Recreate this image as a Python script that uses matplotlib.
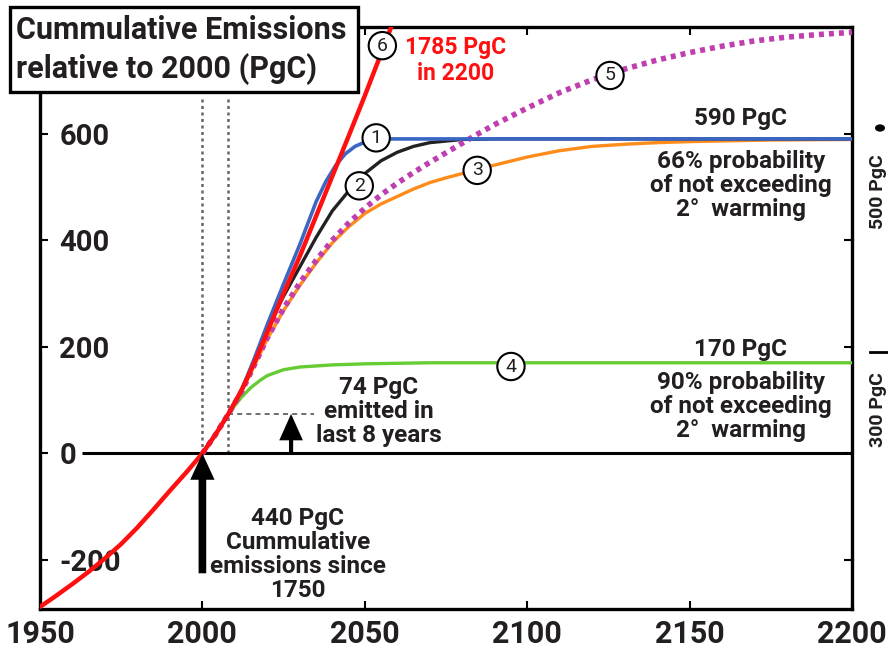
import matplotlib
matplotlib.use("Agg")
import matplotlib.pyplot as plt
from matplotlib.patches import Rectangle, Circle

plt.rcParams['font.family'] = ['Roboto', 'DejaVu Sans']
plt.rcParams['font.weight'] = 'bold'

TXT = '#231f20'

# ---------------- cumulative emissions relative to 2000 (PgC) ----------------
yr_red = [1950, 1955, 1960, 1965, 1970, 1975, 1980, 1985, 1990, 1995, 2000,
          2004, 2008, 2012, 2016, 2020, 2025, 2030, 2035, 2040, 2045, 2050,
          2055, 2060]
red = [-288, -267, -245, -222, -197, -170, -139, -105, -70, -36, 0,
       35, 74, 118, 170, 228, 300, 370, 445, 520, 595, 671, 750, 830]

yr_blue = [2000, 2004, 2008, 2012, 2016, 2020, 2025, 2030, 2035, 2038, 2041,
           2044, 2047, 2050, 2053, 2058, 2070, 2200]
blue = [0, 35, 74, 118, 178, 242, 318, 392, 472, 510, 540,
        562, 576, 584, 588, 590, 590, 590]

yr_black = [2000, 2004, 2008, 2012, 2016, 2020, 2025, 2030, 2035, 2040, 2045,
            2050, 2055, 2060, 2065, 2070, 2080, 2090, 2200]
black = [0, 35, 74, 116, 172, 235, 295, 350, 405, 455, 492,
         525, 549, 565, 576, 583, 589, 590, 590]

yr_orange = [2000, 2004, 2008, 2012, 2016, 2020, 2025, 2030, 2035, 2040, 2045,
             2050, 2055, 2060, 2065, 2070, 2075, 2080, 2085, 2090, 2100, 2110,
             2120, 2130, 2140, 2150, 2175, 2200]
orange = [0, 35, 74, 115, 165, 215, 268, 315, 357, 395, 425,
          450, 468, 482, 496, 508, 517, 525, 533, 541, 556, 568,
          576, 580, 583, 585, 588, 589]

yr_mag = [2000, 2004, 2008, 2012, 2016, 2020, 2025, 2030, 2035, 2040, 2045,
          2050, 2055, 2060, 2065, 2070, 2075, 2080, 2085, 2090, 2100, 2110,
          2120, 2130, 2140, 2150, 2160, 2170, 2180, 2190, 2200]
magenta = [0, 35, 74, 115, 166, 217, 272, 320, 362, 400, 432,
           460, 485, 507, 527, 546, 564, 582, 600, 617, 648, 677,
           701, 721, 738, 752, 764, 774, 781, 786, 790]

yr_green = [2000, 2004, 2008, 2010, 2012, 2015, 2018, 2020, 2025, 2030, 2040,
            2050, 2070, 2200]
green = [0, 35, 74, 90, 105, 124, 138, 146, 157, 162, 166, 168, 170, 170]

# scenario number -> (year, PgC) where the circled number sits
scen_labels = ['1', '2', '3', '4', '5', '6']
scen_x = [2053.5, 2048.3, 2084.6, 2095, 2125.5, 2055.4]
scen_y = [592, 502, 531, 163, 709, 765]

x_ticks = [1950, 2000, 2050, 2100, 2150, 2200]
y_ticks = [-200, 0, 200, 400, 600]

fig = plt.figure(figsize=(8.88, 6.47), dpi=100)
ax = fig.add_axes([40 / 888, 1 - 609 / 647, 812 / 888, 582 / 647])
ax.set_xlim(1950, 2200)
ax.set_ylim(-292, 800)

# reference lines
ax.vlines([2000, 2008], 0, 671, colors='#666666', linestyles=(0, (1.2, 1.4)), lw=1.8, zorder=1)
ax.hlines(74, 2008, 2034.5, colors='#555555', linestyles=(0, (3, 2.5)), lw=1.2, zorder=1)
ax.hlines(0, 1963, 2200, colors='black', lw=2.2, zorder=2)

# scenarios
ax.plot(yr_green, green, color='#66cc33', lw=2.4, zorder=3)
ax.plot(yr_orange, orange, color='#ff8c1a', lw=2.4, zorder=3)
ax.plot(yr_black, black, color='#222222', lw=2.4, zorder=4)
ax.plot(yr_mag, magenta, color='#c03fb0', lw=4, linestyle=(0, (0.9, 0.9)), zorder=4)
ax.plot(yr_blue, blue, color='#3b66c4', lw=2.6, zorder=5)
ax.plot(yr_red, red, color='#ff1010', lw=3.2, zorder=5)

for lab, x, y in zip(scen_labels, scen_x, scen_y):
    ax.text(x, y, lab, ha='center', va='center', fontsize=14, fontweight='normal',
            color=TXT, zorder=7,
            bbox=dict(boxstyle='circle,pad=0.24', fc='white', ec='black', lw=1.5))

# arrows
ax.annotate('', xy=(2000, 0), xytext=(2000, -225),
            arrowprops=dict(arrowstyle='simple,head_length=1.9,head_width=1.75,tail_width=0.55',
                            mutation_scale=10, fc='black', ec='black', lw=0, shrinkA=0, shrinkB=0),
            zorder=6)
ax.annotate('', xy=(2027.3, 74), xytext=(2027.3, 0),
            arrowprops=dict(arrowstyle='simple,head_length=1.9,head_width=1.7,tail_width=0.3',
                            mutation_scale=10, fc='black', ec='black', lw=0, shrinkA=0, shrinkB=0),
            zorder=6)

# annotations
kw = dict(ha='center', va='center', color=TXT, fontsize=17.5, linespacing=1.06)
ax.text(2078, 737, '1785 PgC\nin 2200', ha='center', va='center', color='#ff1010',
        fontsize=16.5, linespacing=1.15)
ax.text(2165.8, 628, '590 PgC', **kw)
ax.text(2165.8, 502, '66% probability\nof not exceeding\n2°  warming', **kw)
ax.text(2165.8, 195, '170 PgC', **kw)
ax.text(2165.8, 88, '90% probability\nof not exceeding\n2°  warming', **kw)
ax.text(2054.3, 79, '74 PgC\nemitted in\nlast 8 years', **kw)
ax.text(2029.4, -190, '440 PgC\nCummulative\nemissions since\n1750', **kw)

# axes styling
ax.set_xticks(x_ticks)
ax.set_yticks(y_ticks)
ax.set_xticklabels([str(t) for t in x_ticks], fontsize=22, color=TXT)
ax.set_yticklabels([str(t) for t in y_ticks], fontsize=21, color=TXT)
ax.tick_params(axis='both', direction='in', length=6, width=1.5, top=True, right=True)
ax.tick_params(axis='x', pad=7)
ax.tick_params(axis='y', pad=-14)
for lab in ax.get_yticklabels():
    lab.set_ha('left')
for s in ax.spines.values():
    s.set_linewidth(2.4)

# title box
fig.patches.append(Rectangle((10 / 888, 1 - 92 / 647), 348 / 888, 85 / 647,
                             transform=fig.transFigure, fc='white', ec='black',
                             lw=2.4, zorder=2))
fig.text(16 / 888, 1 - 50 / 647, 'Cummulative Emissions\nrelative to 2000 (PgC)',
         ha='left', va='center', fontsize=22, color=TXT, linespacing=1.3, zorder=3)

# edge of the neighbouring panel
fig.text(878 / 888, 1 - 192 / 647, '500 PgC', rotation=90, ha='center', va='center',
         fontsize=14, color=TXT)
fig.text(878 / 888, 1 - 410 / 647, '300 PgC', rotation=90, ha='center', va='center',
         fontsize=14, color=TXT)
fig.patches.append(Circle((880 / 888, 1 - 128 / 647), 5 / 888, transform=fig.transFigure,
                          fc='black', ec='none'))
fig.lines.append(plt.Line2D([870 / 888, 888 / 888], [1 - 352 / 647, 1 - 352 / 647],
                            transform=fig.transFigure, color='black', lw=2))

fig.savefig('out.png', dpi=100)
